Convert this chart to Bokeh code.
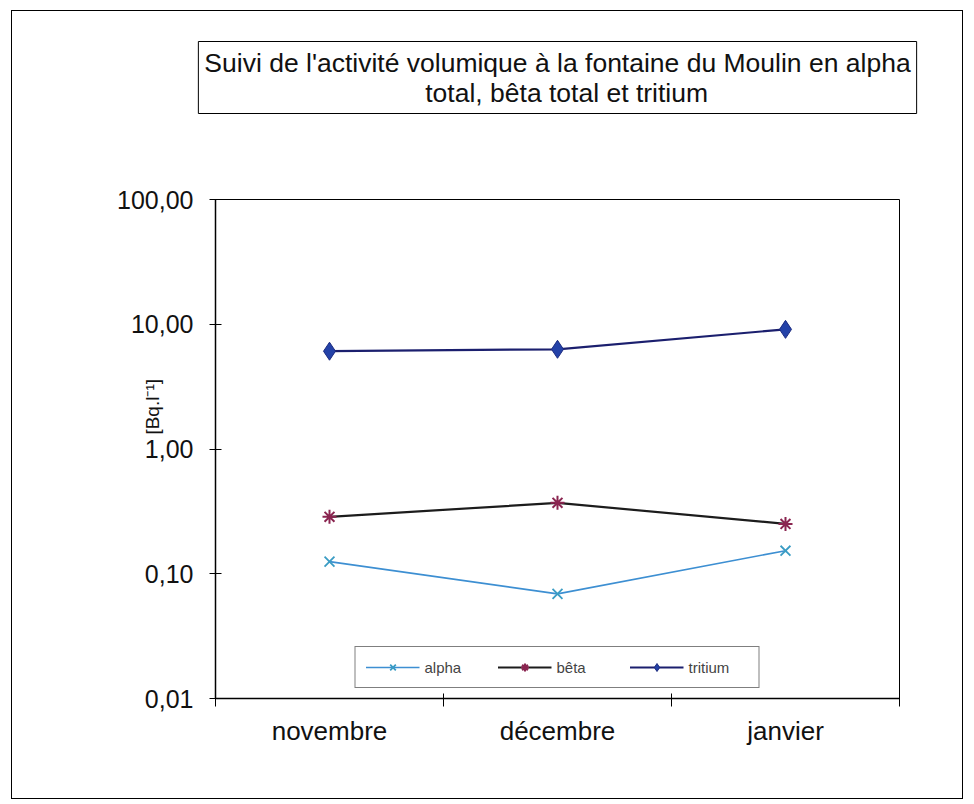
from bokeh.plotting import figure
from bokeh.models import FixedTicker, Range1d, Legend, LegendItem, Title
from bokeh.embed import file_html
from bokeh.resources import INLINE

# ---- data ----
months = ["novembre", "décembre", "janvier"]
alpha = [0.125, 0.069, 0.153]
beta = [0.286, 0.37, 0.251]
tritium = [6.08, 6.3, 9.1]
series_names = ["alpha", "bêta", "tritium"]
y_ticks = [0.01, 0.1, 1, 10, 100]
y_tick_labels = ["0,01", "0,10", "1,00", "10,00", "100,00"]
title_lines = ["Suivi de l'activité volumique à la fontaine du Moulin en alpha",
               "total, bêta total et tritium"]
y_label = "[Bq.l\u207b\u00b9]"

FONT = "Liberation Sans"
OX, OY = 12, 11          # page offset of the canvas (margin + border)
W, H = 950, 787
FL, FR, FT, FB = 215, 899, 199, 698  # frame edges in page pixels

p = figure(width=W, height=H, frame_width=FR - FL, frame_height=FB - FT,
           output_backend="svg", toolbar_location=None,
           y_axis_type="log", x_range=Range1d(-0.5, len(months) - 0.5),
           y_range=Range1d(y_ticks[0], y_ticks[-1]),
           min_border_left=FL - OX, min_border_right=OX + W - FR,
           min_border_top=FT - OY, min_border_bottom=OY + H - FB)
p.margin = (10, 0, 0, 11)
p.styles = {"border": "1px solid black"}
p.xgrid.visible = False
p.ygrid.visible = False
p.outline_line_color = "black"
p.outline_line_width = 1
p.background_fill_color = "white"
p.border_fill_color = "white"

x = list(range(len(months)))

la = p.line(x, alpha, line_color="#3d8fd2", line_width=1.6)
sa = p.scatter(x, alpha, marker="x", size=14, line_color="#3a9cc4", line_width=1.8)
lb = p.line(x, beta, line_color="#1c1c1c", line_width=2.2)
sb = p.scatter(x, beta, marker="asterisk", size=14, line_color="#8a2550", line_width=2)
lt = p.line(x, tritium, line_color="#1b1f6e", line_width=2.2)
st = p.scatter(x, tritium, marker="diamond", size=18, fill_color="#2442a8",
               line_color="#1b2a80", line_width=1)

# spacer between frame and title box
p.add_layout(Title(text="\u00a0", text_font_size="1px", standoff=83), "above")

# ---- title (second line padded so that it sits centred) ----
p.title.text = title_lines[0] + "\n" + "\u00a0" * 30 + title_lines[1]
p.title.align = "center"
p.title.text_font = FONT
p.title.text_font_size = "26.5px"
p.title.text_font_style = "normal"
p.title.text_color = "#111111"
p.title.border_line_color = "black"
p.title.border_line_width = 1
p.title.padding = 6
p.title.standoff = 0

# ---- axes ----
xa = p.xaxis[0]
xa.ticker = FixedTicker(ticks=x, minor_ticks=[i - 0.5 for i in range(len(months) + 1)])
xa.major_label_overrides = {i: m for i, m in zip(x, months)}
xa.major_tick_line_color = None
xa.minor_tick_line_color = "black"
xa.minor_tick_in = 5
xa.minor_tick_out = 8
xa.axis_line_width = 1.5
xa.axis_line_color = "black"
xa.major_label_text_font = FONT
xa.major_label_text_font_size = "26px"
xa.major_label_text_color = "#111111"
xa.major_label_standoff = 9
xa.axis_label_standoff = 0
xa.axis_label_text_font_size = "1px"

ya = p.yaxis[0]
ya.ticker = FixedTicker(ticks=y_ticks)
ya.major_label_overrides = {v: t for v, t in zip(y_ticks, y_tick_labels)}
ya.minor_tick_line_color = None
ya.major_tick_in = 6
ya.major_tick_out = 6
ya.axis_line_width = 1.5
ya.axis_line_color = "black"
ya.major_tick_line_color = "black"
ya.major_label_text_font = FONT
ya.major_label_text_font_size = "25px"
ya.major_label_text_color = "#111111"
ya.major_label_standoff = 16
ya.axis_label = "\u00a0" * 16 + y_label
ya.axis_label_text_font = FONT
ya.axis_label_text_font_size = "19px"
ya.axis_label_text_font_style = "normal"
ya.axis_label_text_color = "#111111"
ya.axis_label_standoff = -49

# ---- legend (kept inside the frame so that it stays visible) ----
legend = Legend(items=[LegendItem(label=series_names[0], renderers=[la, sa]),
                       LegendItem(label=series_names[1], renderers=[lb, sb]),
                       LegendItem(label=series_names[2], renderers=[lt, st])],
                orientation="horizontal", location="bottom_center")
legend.border_line_color = "black"
legend.border_line_width = 1
legend.background_fill_color = "white"
legend.background_fill_alpha = 1
legend.label_text_font = FONT
legend.label_text_font_size = "15px"
legend.glyph_width = 54
legend.glyph_height = 20
legend.label_standoff = 5
legend.label_width = 60
legend.spacing = 13
legend.padding = 10
legend.margin = 10
p.add_layout(legend)

open("out.html", "w").write(file_html(p, INLINE))
